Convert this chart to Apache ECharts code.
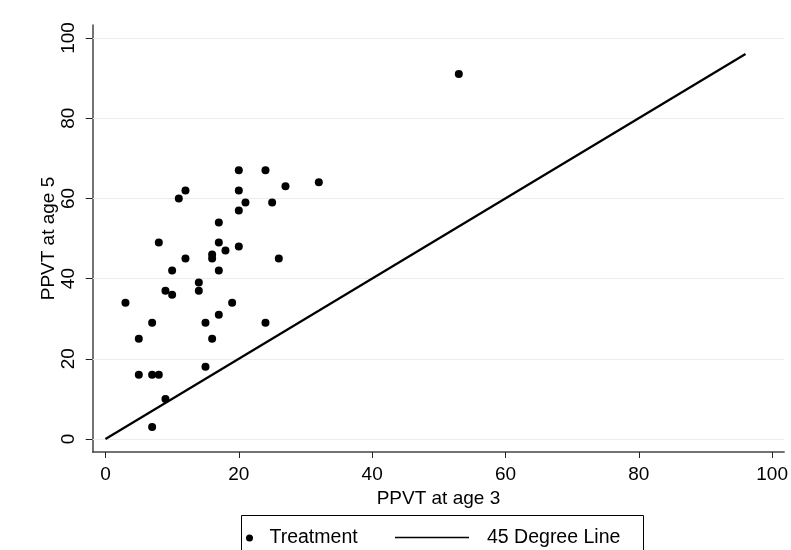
<!DOCTYPE html>
<html>
<head>
<meta charset="utf-8">
<script src="https://cdn.jsdelivr.net/npm/echarts@6/dist/echarts.min.js"></script>
<style>
html,body{margin:0;padding:0;background:#fff;}
#chart{width:791px;height:550px;}
</style>
</head>
<body>
<div id="chart"></div>
<script>
// Data
var ppvtAge3 = [3,5,5,7,7,7,8,8,9,9,10,10,11,12,12,14,14,15,15,16,16,16,17,17,17,17,18,19,20,20,20,20,21,24,24,25,26,27,32,53];
var ppvtAge5 = [34,25,16,29,16,3,49,16,37,10,42,36,60,62,45,39,37,29,18,46,45,25,54,49,42,31,47,34,67,62,57,48,59,67,29,59,45,63,64,91];
var lineX = [0,96];
var lineY = [0,96];
var tickValues = [0,20,40,60,80,100];
var seriesNames = ['Treatment','45 Degree Line'];
var xTitle = 'PPVT at age 3';
var yTitle = 'PPVT at age 5';

var scatterData = ppvtAge3.map(function(x,i){return [x, ppvtAge5[i]];});
var lineData = lineX.map(function(x,i){return [x, lineY[i]];});

var FONT = '"Liberation Sans", Arial, Helvetica, sans-serif';
var chart = echarts.init(document.getElementById('chart'), null, {renderer:'canvas'});
chart.setOption({
  backgroundColor:'#ffffff',
  animation:false,
  textStyle:{fontFamily:FONT},
  grid:{left:92.7, right:5, top:25, bottom:98, containLabel:false},
  xAxis:{
    type:'value', min:-1.915, max:101.8,
    name:xTitle, nameLocation:'middle', nameGap:37, nameMoveOverlap:false,
    nameTextStyle:{fontSize:19, color:'#000', fontFamily:FONT},
    axisLine:{show:true, onZero:false, lineStyle:{color:'#444', width:1.5}},
    axisTick:{show:true, length:6, customValues:tickValues, lineStyle:{color:'#222', width:1}},
    axisLabel:{customValues:tickValues, fontSize:19, color:'#000', margin:13, fontFamily:FONT},
    splitLine:{show:false}
  },
  yAxis:{
    type:'value', min:-3.24, max:103.24,
    name:yTitle, nameLocation:'middle', nameGap:34, nameRotate:90, nameMoveOverlap:false,
    nameTextStyle:{fontSize:19, color:'#000', fontFamily:FONT},
    axisLine:{show:true, onZero:false, lineStyle:{color:'#444', width:1.5}},
    axisTick:{show:true, length:7, customValues:tickValues, lineStyle:{color:'#222', width:1}},
    axisLabel:{customValues:tickValues, fontSize:19, color:'#000', margin:14, rotate:90, fontFamily:FONT},
    splitLine:{show:false}
  },
  legend:[
    {data:[{name:seriesNames[0], icon:'circle'}], left:246, top:528, padding:0,
     itemWidth:12, itemHeight:7, selectedMode:false,
     textStyle:{fontSize:19.5, color:'#000', fontFamily:FONT, padding:[0,0,0,9]}},
    {data:[{name:seriesNames[1], icon:'none'}], left:395, top:528, padding:0,
     itemWidth:74, itemHeight:14, selectedMode:false,
     textStyle:{fontSize:19.5, color:'#000', fontFamily:FONT, padding:[0,0,0,13]}}
  ],
  graphic:[
    {type:'rect', left:239, top:513, shape:{width:402, height:60},
     style:{fill:'none', stroke:'#000', lineWidth:1}, z:0},
    {type:'line', shape:{x1:395, y1:537.5, x2:469, y2:537.5},
     style:{stroke:'#000', lineWidth:1.6}, z:5}
  ],
  series:[
    {
      name:seriesNames[0], type:'scatter', data:scatterData,
      symbol:'circle', symbolSize:8, itemStyle:{color:'#000', opacity:1}, z:3,
      markLine:{
        silent:true, symbol:'none', label:{show:false},
        lineStyle:{color:'#e6eef0', type:'solid', width:1.2},
        data:tickValues.map(function(v){return {yAxis:v};}),
        z:1
      }
    },
    {
      name:seriesNames[1], type:'line', data:lineData, symbol:'none', showSymbol:false,
      lineStyle:{color:'#000', width:2.2}, itemStyle:{color:'#000'}, z:2
    }
  ]
});
</script>
</body>
</html>
